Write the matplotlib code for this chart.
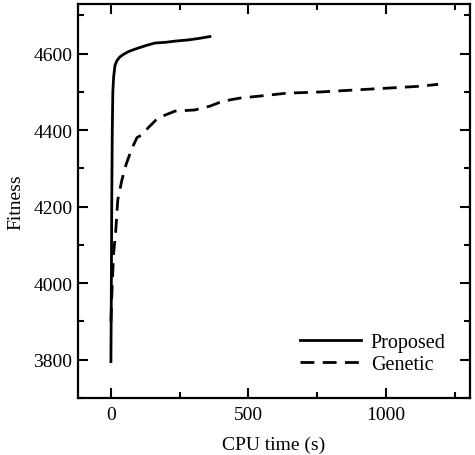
import matplotlib.pyplot as plt
import numpy as np

plt.rcParams['font.family'] = ['Liberation Serif', 'DejaVu Serif']

# Proposed method: CPU time (s) vs fitness
prop_t = [0, 1, 2, 3, 4, 5, 7, 10, 15, 22, 33, 45, 62, 80, 100, 130, 160, 200, 233, 280, 320, 360]
prop_f = [3795, 3900, 4050, 4200, 4300, 4400, 4500, 4540, 4570, 4582, 4592, 4598, 4605, 4610, 4615, 4622, 4628, 4630, 4633, 4636, 4640, 4645]

# Genetic algorithm
gen_t = [0, 5, 10, 17, 25, 40, 55, 75, 95, 113, 135, 171, 233, 305, 360, 407, 469, 550, 640, 760, 880, 1003, 1124, 1190]
gen_f = [3900, 4000, 4080, 4130, 4218, 4270, 4310, 4350, 4381, 4388, 4406, 4432, 4450, 4453, 4463, 4476, 4484, 4490, 4497, 4500, 4505, 4510, 4515, 4520]

fig = plt.figure(figsize=(4.75, 4.56), dpi=100)
ax = fig.add_axes([0.164, 0.125, 0.825, 0.864])

ax.plot(prop_t, prop_f, color='black', lw=2.0, label='Proposed')
ax.plot(gen_t, gen_f, color='black', lw=2.0, dashes=(5, 3), label='Genetic')

ax.set_xlim(-120, 1305)
ax.set_ylim(3712, 4730)
ax.set_xticks([0, 500, 1000])
ax.set_xticks([250, 750, 1250], minor=True)
ax.set_yticks([3800, 4000, 4200, 4400, 4600])
ax.set_yticks(np.arange(3700, 4800, 100), minor=True)

ax.tick_params(which='both', direction='in', top=True, right=True, width=1.5, labelsize=14)
ax.tick_params(which='major', length=7)
ax.tick_params(which='minor', length=4)
ax.tick_params(axis='x', pad=6)
ax.tick_params(axis='y', pad=4)
for s in ax.spines.values():
    s.set_linewidth(1.6)

ax.set_xlabel('CPU time (s)', fontsize=14, labelpad=9)
ax.set_ylabel('Fitness', fontsize=14, labelpad=6)

ax.legend(loc='lower right', frameon=False, fontsize=14.5, handlelength=3.0,
          handletextpad=0.5, labelspacing=0.15, borderaxespad=0.8)

fig.savefig('out.png', dpi=100)
